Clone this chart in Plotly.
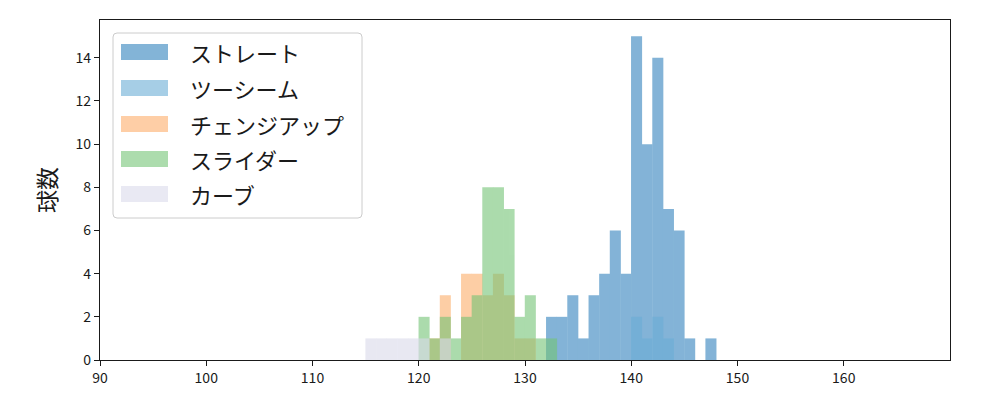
import plotly.graph_objects as go

# 球種ごとの速度ビン(左端, km/h)と球数
pitch_names = ['ストレート', 'ツーシーム', 'チェンジアップ', 'スライダー', 'カーブ']
pitch_colors = ['#3182bd', '#6baed6', '#fdae6b', '#74c476', '#dadaeb']

straight_bins = [132, 133, 134, 135, 136, 137, 138, 139, 140, 141, 142, 143, 144, 145, 146, 147]
straight_counts = [2, 2, 3, 1, 3, 4, 6, 4, 15, 10, 14, 7, 6, 1, 0, 1]

twoseam_bins = [140, 141, 142, 143]
twoseam_counts = [2, 1, 2, 1]

change_bins = [121, 122, 123, 124, 125, 126, 127, 128, 129, 130]
change_counts = [1, 3, 0, 4, 4, 3, 4, 3, 1, 1]

slider_bins = [120, 121, 122, 123, 124, 125, 126, 127, 128, 129, 130, 131, 132]
slider_counts = [2, 1, 2, 1, 2, 3, 8, 8, 7, 2, 3, 1, 1]

curve_bins = [115, 116, 117, 118, 119, 120, 121, 122]
curve_counts = [1, 1, 1, 1, 1, 1, 0, 1]

series = [
    (straight_bins, straight_counts),
    (twoseam_bins, twoseam_counts),
    (change_bins, change_counts),
    (slider_bins, slider_counts),
    (curve_bins, curve_counts),
]

x_ticks = [90, 100, 110, 120, 130, 140, 150, 160]
y_ticks = [0, 2, 4, 6, 8, 10, 12, 14]

FONT = 'Noto Sans CJK JP'

fig = go.Figure()
for name, color, (bins, counts) in zip(pitch_names, pitch_colors, series):
    fig.add_trace(go.Bar(
        x=[b + 0.5 for b in bins],
        y=counts,
        width=1.04,  # 隣のビンとの継ぎ目を消す
        name=name,
        marker={'color': color, 'line': {'width': 0}},
        opacity=0.6,
    ))

# 図のピクセル -> paper座標 (描画領域 x:100-950, y:20-360)
def px_x(p):
    return (p - 100) / 850

def px_y(p):
    return (360 - p) / 340

shapes = []
# 凡例の枠 (角丸)
x0, x1, y0, y1 = px_x(113), px_x(362), px_y(218), px_y(33)
rx, ry = 4 / 850, 4 / 340
path = (f'M {x0+rx},{y0} L {x1-rx},{y0} Q {x1},{y0} {x1},{y0+ry} '
        f'L {x1},{y1-ry} Q {x1},{y1} {x1-rx},{y1} '
        f'L {x0+rx},{y1} Q {x0},{y1} {x0},{y1-ry} '
        f'L {x0},{y0+ry} Q {x0},{y0} {x0+rx},{y0} Z')
shapes.append(dict(type='path', xref='paper', yref='paper', path=path,
                   fillcolor='rgba(255,255,255,0.8)', line={'color': '#cccccc', 'width': 1}))

annotations = []
row_centers = [52, 88, 124, 159, 194]
for name, color, yc in zip(pitch_names, pitch_colors, row_centers):
    shapes.append(dict(type='rect', xref='paper', yref='paper',
                       x0=px_x(121), x1=px_x(168), y0=px_y(yc + 8), y1=px_y(yc - 8),
                       fillcolor=color, opacity=0.6, line={'width': 0}))
    annotations.append(dict(xref='paper', yref='paper', x=px_x(188), y=px_y(yc),
                            text=name, showarrow=False, xanchor='left', yanchor='middle',
                            font={'family': FONT, 'size': 22, 'color': '#1a1a1a'}))

# y軸ラベル
annotations.append(dict(xref='paper', yref='paper', x=px_x(46), y=px_y(190),
                        text='球数', showarrow=False, textangle=-90,
                        xanchor='center', yanchor='middle',
                        font={'family': FONT, 'size': 23, 'color': '#1a1a1a'}))

# ページ余白(8px)の分だけ左上をずらしておく
fig.update_layout(
    width=1000, height=400,
    barmode='overlay',
    showlegend=False,
    plot_bgcolor='white',
    paper_bgcolor='white',
    margin={'l': 92, 'r': 58, 't': 12, 'b': 48},
    font={'family': FONT, 'size': 14, 'color': '#1a1a1a'},
    xaxis={'range': [90, 170], 'tickvals': x_ticks, 'ticks': 'outside', 'ticklen': 5,
           'showgrid': False, 'zeroline': False, 'showline': True, 'linecolor': '#1a1a1a',
           'linewidth': 1.3, 'mirror': True, 'tickcolor': '#1a1a1a'},
    yaxis={'range': [0, 15.75], 'tickvals': y_ticks, 'ticks': 'outside', 'ticklen': 5,
           'showgrid': False, 'zeroline': False, 'showline': True, 'linecolor': '#1a1a1a',
           'linewidth': 1.3, 'mirror': True, 'tickcolor': '#1a1a1a'},
    shapes=shapes,
    annotations=annotations,
)

fig.write_html("out.html")
